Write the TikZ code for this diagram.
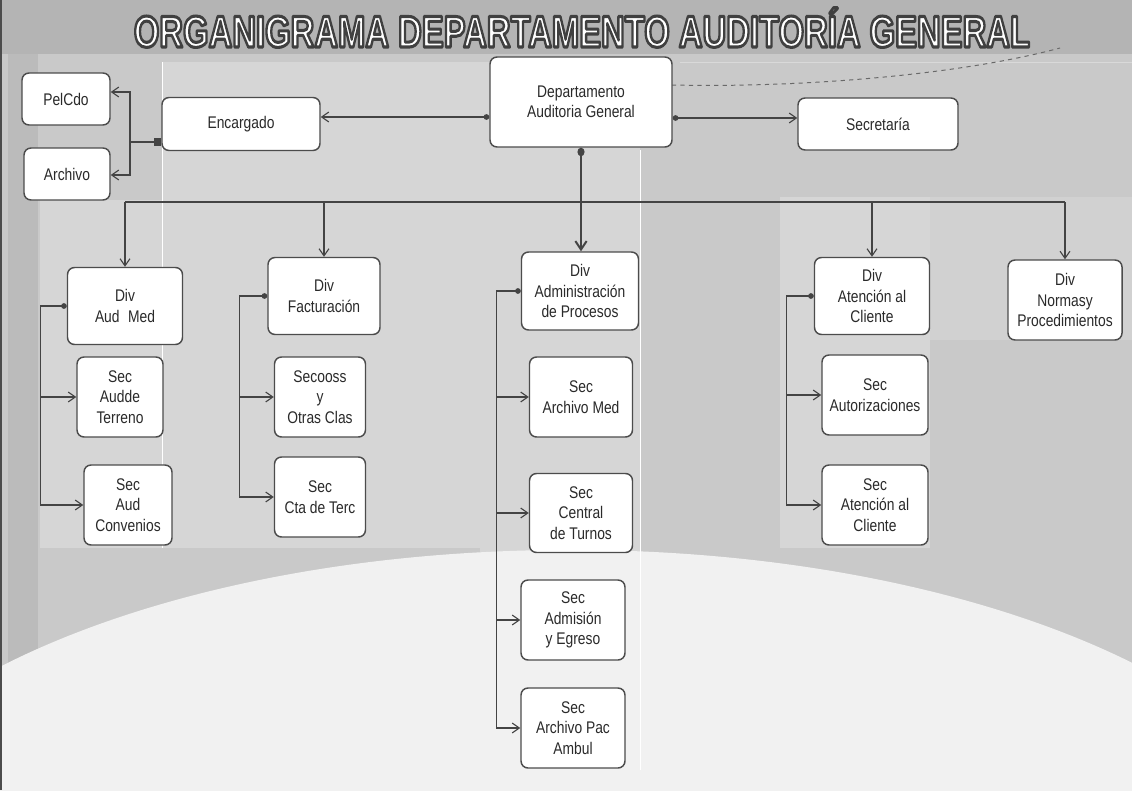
\documentclass[tikz,border=0pt]{standalone}
\usepackage{fontspec}
\setmainfont{Liberation Sans}[FakeStretch=0.82]
\newfontfamily\titlefont{Liberation Sans Bold}
\usetikzlibrary{arrows.meta}
\definecolor{bgmain}{HTML}{C9C9C9}
\definecolor{topband}{HTML}{B4B4B4}
\definecolor{strip}{HTML}{BBBBBB}
\definecolor{panel}{HTML}{D6D6D6}
\definecolor{lowlight}{HTML}{F1F1F1}
\definecolor{boxline}{HTML}{4C4C4C}
\definecolor{linec}{HTML}{444444}
\definecolor{textc}{HTML}{2A2A2A}
\newcommand\outlinedtext[1]{\textcolor{white}{\special{pdf:literal direct 2 Tr 2.1 w 1 j 0.25 0.25 0.25 RG}#1\special{pdf:literal direct 0 Tr}}}
\begin{document}
\begin{tikzpicture}[x=0.025cm,y=-0.025cm,
  box/.style={draw=boxline, line width=1.05pt, fill=white, rounded corners=5pt,
    align=center, inner sep=2pt, text=textc, font=\fontsize{12}{14.5}\selectfont},
  sz/.style 2 args={minimum width=#1*0.025cm, minimum height=#2*0.025cm},
  conn/.style={draw=linec, line width=0.8pt},
  arr/.style={conn, -{Straight Barb[length=5pt,width=7pt]}},
  darr/.style={conn, {Circle[length=4pt]}-{Straight Barb[length=5pt,width=7pt]}}]
\useasboundingbox (0,0) rectangle (1132,790);
% background
\begin{scope}
\clip (0,0) rectangle (1132,790);
\fill[bgmain] (0,0) rectangle (1132,790);
\fill[topband] (0,0) rectangle (1132,54);
\fill[strip] (8,54) rectangle (38,790);
\fill[panel] (162,62) rectangle (640,200);
\fill[panel] (40,200) rectangle (640,548);
\fill[panel] (480,200) rectangle (640,560);
\fill[panel] (780,197) rectangle (930,548);
\fill[panel!60!bgmain] (930,197) rectangle (1132,340);
\fill[lowlight] (570,900) ellipse [x radius=19.1cm, y radius=8.75cm];
\draw[white, line width=0.6pt] (162,62) -- (162,548);
\draw[white, line width=0.6pt] (640,150) -- (640,770);
\draw[white!85!black, line width=0.6pt] (680,62) -- (1132,62);
\draw[black!70, line width=1pt] (1,0) -- (1,790);
\draw[linec!80, dashed, line width=0.7pt] (672,85) .. controls (800,88) and (960,75) .. (1060,48);
\end{scope}
% title
\node[anchor=base] (title) at (582,47) {\resizebox{22.4cm}{!}{\scalebox{0.74}[1]{\titlefont\fontsize{30}{30}\selectfont\outlinedtext{ORGANIGRAMA DEPARTAMENTO AUDITORÍA GENERAL}}}};
% boxes
\node[box, sz={88}{52}] (pelcdo) at (66,99) {PelCdo};
\node[box, sz={86}{52}] (archivo) at (67,174) {Archivo};
\node[box, sz={158}{53}] (enc) at (241,124) {Encargado};
\node[box, sz={182}{90}] (dept) at (581,102) {Departamento\\Auditoria General};
\node[box, sz={160}{52}] (secr) at (878,124) {Secretaría};
\node[box, sz={115}{77}] (divaud) at (125,306) {Div\\Aud\enspace Med};
\node[box, sz={112}{77}] (divfac) at (324,296) {Div\\Facturación};
\node[box, sz={117}{78}] (divadm) at (580,291) {Div\\Administración\\de Procesos};
\node[box, sz={115}{77}] (divat) at (872,296) {Div\\Atención al\\Cliente};
\node[box, sz={114}{80}] (divnor) at (1065,300) {Div\\Normasy\\Procedimientos};
\node[box, sz={86}{80}] (secter) at (120,397) {Sec\\Audde\\Terreno};
\node[box, sz={88}{80}] (secconv) at (128,505) {Sec\\Aud\\Convenios};
\node[box, sz={91}{80}] (secoss) at (320,397) {Secooss\\y\\Otras Clas};
\node[box, sz={91}{80}] (seccta) at (320,497) {Sec\\Cta de Terc};
\node[box, sz={103}{80}] (secarch) at (581,397) {Sec\\Archivo Med};
\node[box, sz={103}{79}] (seccent) at (581,513) {Sec\\Central\\de Turnos};
\node[box, sz={104}{80}] (secadm) at (573,620) {Sec\\Admisión\\y Egreso};
\node[box, sz={104}{80}] (secpac) at (573,728) {Sec\\Archivo Pac\\Ambul};
\node[box, sz={106}{80}] (secaut) at (875,395) {Sec\\Autorizaciones};
\node[box, sz={106}{80}] (secaten) at (875,505) {Sec\\Atención al\\Cliente};
% top connectors
\draw[darr] (dept.west |- 0,117) -- (enc.east |- 0,117);
\draw[darr] (dept.east |- 0,118) -- (secr.west |- 0,118);
\coordinate (ej) at (130,142);
\draw[conn, {Square[length=5pt,width=5pt]}-{Straight Barb[length=5pt,width=7pt]}] (enc.west |- ej) -- (ej) |- (pelcdo.east |- 0,92);
\draw[arr] (ej) |- (archivo.east |- 0,175);
\draw[conn, line width=1.4pt, {Circle[length=6pt,width=5pt]}-{Straight Barb[length=6pt,width=8pt]}] (dept.south) -- (dept.south |- divadm.north);
% bus
\coordinate (bus) at (125,202);
\draw[conn] (divaud.north |- bus) -- (divnor.north |- bus);
\draw[arr] (divaud.north |- bus) -- (divaud.north);
\draw[arr] (divfac.north |- bus) -- (divfac.north);
\draw[arr] (divat.north |- bus) -- (divat.north);
\draw[arr] (divnor.north |- bus) -- (divnor.north);
% branches
\draw[darr] (divaud.west) -- ++(-26,0) coordinate (t1) |- (secter.west);
\draw[arr] (t1) |- (secconv.west);
\draw[darr] (divfac.west) -- ++(-28,0) coordinate (t2) |- (secoss.west);
\draw[arr] (t2) |- (seccta.west);
\draw[darr] (divadm.west) -- ++(-24,0) coordinate (t3) |- (secarch.west);
\draw[arr] (t3) |- (seccent.west);
\draw[arr] (t3) |- (secadm.west);
\draw[arr] (t3) |- (secpac.west);
\draw[darr] (divat.west) -- ++(-27,0) coordinate (t4) |- (secaut.west);
\draw[arr] (t4) |- (secaten.west);
\end{tikzpicture}
\end{document}
